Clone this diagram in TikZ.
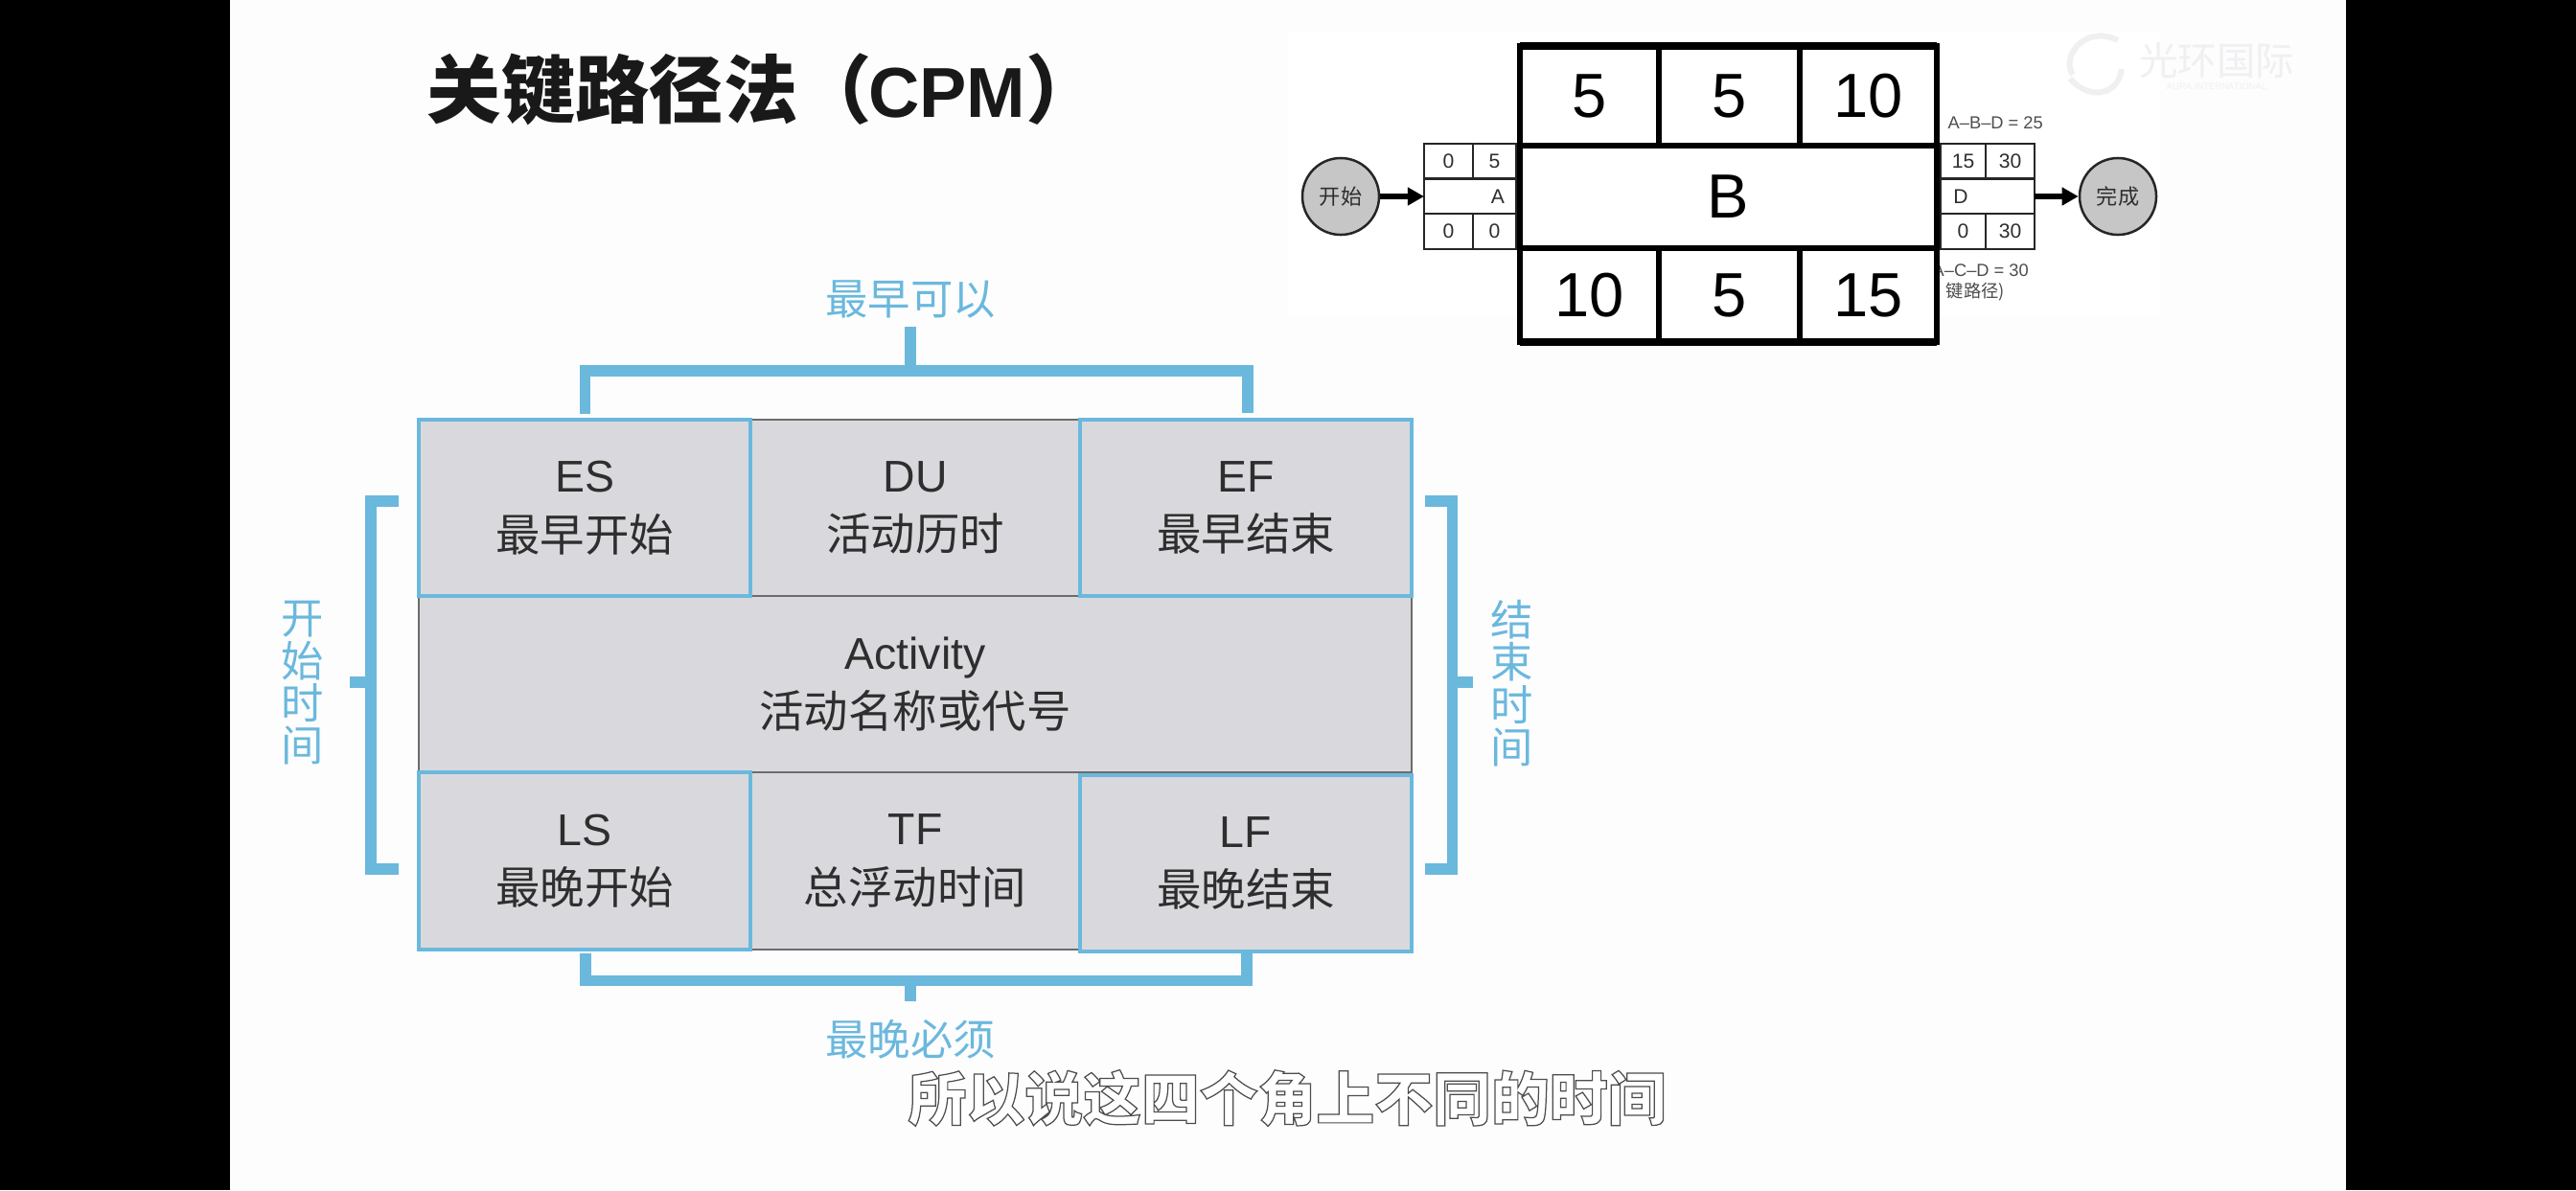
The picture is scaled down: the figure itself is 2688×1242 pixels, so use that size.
\documentclass[tikz,border=0pt]{standalone}
\usepackage{fontspec}
\setmainfont{Liberation Sans}
\newfontfamily\cjk{Noto Sans CJK SC}
\usetikzlibrary{arrows.meta}
\definecolor{barblue}{HTML}{6BB8DD}
\definecolor{cellgray}{HTML}{D9D9DD}
\definecolor{ink}{HTML}{2E2E2E}
\definecolor{pagewhite}{HTML}{FDFDFE}
\definecolor{markgray}{HTML}{F0F0F2}
\tikzset{
  cell/.style={rectangle,draw=gray!85!black,line width=.02cm,fill=cellgray,text=ink,
    inner sep=0pt,outer sep=0pt,align=center,font=\fontsize{13.2}{17.5}\selectfont},
  corner/.style={cell,draw=barblue,line width=.035cm},
  bracket/.style={draw=barblue,line width=.115cm},
  bluetext/.style={text=barblue,align=center,inner sep=0pt,font=\cjk\fontsize{12.6}{12.6}\selectfont},
  bigcell/.style={rectangle,draw=black,fill=white,line width=.055cm,inner sep=0pt,outer sep=0pt,
    font=\fontsize{18.5}{20}\selectfont},
  smallcell/.style={rectangle,draw=black!85,fill=white,line width=.025cm,inner sep=0pt,outer sep=0pt,
    text=ink,font=\fontsize{6}{7}\selectfont},
  endpoint/.style={circle,draw=black!85,fill=gray!45,line width=.025cm,minimum size=.8cm,inner sep=0pt,
    text=ink,font=\cjk\fontsize{6.3}{7}\selectfont},
  flow/.style={draw=black,line width=.06cm,-{Triangle[length=.17cm,width=.18cm]},shorten >=0pt},
  note/.style={anchor=west,inner sep=0pt,text=ink!85,font=\fontsize{5.2}{6}\selectfont}
}
\begin{document}
\begin{tikzpicture}[x=.01cm,y=-.01cm]

        \useasboundingbox (0,0) rectangle (2688,1242);
        \fill[black] (0,0) rectangle (240,1242);
        \fill[black] (2448,0) rectangle (2688,1242);
        \fill[pagewhite] (240,0) rectangle (2448,1242);
        \fill[white] (1344,33) rectangle (2254,330);

        % watermark
        \draw[markgray,line width=.06cm] (2210,42) .. controls (2175,25) and (2150,60) .. (2163,78);
        \draw[markgray,line width=.06cm] (2214,72) .. controls (2210,100) and (2180,105) .. (2160,82);
        \node (markcn) at (2313,63) [inner sep=0pt,text=markgray,font=\cjk\fontsize{11.5}{12}\selectfont] {光环国际};
        \node (markla) at (2313,90) [inner sep=0pt,text=markgray,font=\fontsize{2.7}{3}\selectfont] {AURA INTERNATIONAL};

        \node (title) at (445,93) [anchor=west,inner sep=0pt,text=black!90]
          {{\cjk\bfseries\fontsize{22}{24}\selectfont 关键路径法（}\hspace{-1pt}{\bfseries\fontsize{21}{24}\selectfont CPM}{\cjk\bfseries\fontsize{22}{24}\selectfont ）}};

        % small network
        \begin{scope}[every node/.style={note}]
          \node (pathone) at (2032,128) {A--B--D = 25};
          \node (pathtwo) at (2016,282) {A--C--D = 30};
          \node (pathnote) at (2030,305) {{\cjk 键路径)}};
        \end{scope}

        \begin{scope}[every node/.style={smallcell,minimum height=.37cm}]
          \node (a1) at (1511.5,168.5) [minimum width=.51cm] {0};
          \node (a2) at (1559.5,168.5) [minimum width=.45cm] {5};
          \node (am) at (1534,205) [minimum width=.96cm] {};
          \node (a3) at (1511.5,241.5) [minimum width=.51cm] {0};
          \node (a4) at (1559.5,241.5) [minimum width=.45cm] {0};
          \node (d1) at (2048.5,168.5) [minimum width=.47cm] {15};
          \node (d2) at (2097.5,168.5) [minimum width=.51cm] {30};
          \node (dm) at (2074,205) [minimum width=.98cm] {};
          \node (d3) at (2048.5,241.5) [minimum width=.47cm] {0};
          \node (d4) at (2097.5,241.5) [minimum width=.51cm] {30};
        \end{scope}
        \node (aname) at (1563,205) [inner sep=0pt,text=ink,font=\fontsize{6}{7}\selectfont] {A};
        \node (dname) at (2046,205) [inner sep=0pt,text=ink,font=\fontsize{6}{7}\selectfont] {D};

        \begin{scope}[every node/.style={bigcell}]
          \node (b1) at (1658.5,100) [minimum width=1.45cm,minimum height=1.04cm] {5};
          \node (b2) at (1804.5,100) [minimum width=1.47cm,minimum height=1.04cm] {5};
          \node (b3) at (1949.5,100) [minimum width=1.43cm,minimum height=1.04cm] {10};
          \node (bm) at (1803.5,205.5) [minimum width=4.35cm,minimum height=1.07cm] {B};
          \node (b4) at (1658.5,308) [minimum width=1.45cm,minimum height=.98cm] {10};
          \node (b5) at (1804.5,308) [minimum width=1.47cm,minimum height=.98cm] {5};
          \node (b6) at (1949.5,308) [minimum width=1.43cm,minimum height=.98cm] {15};
        \end{scope}
        \draw[line width=.08cm] (b1.north west) -- (b3.north east);
        \draw[line width=.08cm] (b4.south west) -- (b6.south east);

        \node (kaishi) at (1399,205) [endpoint] {开始};
        \node (wancheng) at (2210,205) [endpoint] {完成};
        \draw[flow] (kaishi) -- (am);
        \draw[flow] (dm) -- (wancheng);

        % activity table
        \begin{scope}[every node/.style={cell}]
          \node (du) at (955,530) [minimum width=3.44cm,minimum height=1.84cm] {DU\\{\cjk 活动历时}};
          \node (act) at (955,714) [minimum width=10.36cm,minimum height=1.84cm] {Activity\\{\cjk 活动名称或代号}};
          \node (tf) at (955,898.5) [minimum width=3.44cm,minimum height=1.85cm] {TF\\{\cjk 总浮动时间}};
        \end{scope}
        \begin{scope}[every node/.style={corner}]
          \node (es) at (610,530) [minimum width=3.46cm,minimum height=1.84cm] {ES\\{\cjk 最早开始}};
          \node (ef) at (1300,530) [minimum width=3.46cm,minimum height=1.84cm] {EF\\{\cjk 最早结束}};
          \node (ls) at (610,898.5) [minimum width=3.46cm,minimum height=1.85cm] {LS\\{\cjk 最晚开始}};
          \node (lf) at (1300,901) [minimum width=3.46cm,minimum height=1.84cm] {LF\\{\cjk 最晚结束}};
        \end{scope}

        % brackets
        \coordinate (topleft) at (610.5,432);
        \coordinate (topbarl) at (610.5,387);
        \coordinate (topbarr) at (1302,387);
        \coordinate (topright) at (1302,431);
        \coordinate (topmid) at (950,387);
        \coordinate (topstem) at (950,341);
        \draw[bracket] (topleft) -- (topbarl) -- (topbarr) -- (topright);
        \path (topmid) edge[bracket] (topstem);

        \coordinate (botleft) at (611,995);
        \coordinate (botbarl) at (611,1023.5);
        \coordinate (botbarr) at (1301,1023.5);
        \coordinate (botright) at (1301,995);
        \coordinate (botmid) at (950,1023.5);
        \coordinate (botstem) at (950,1045);
        \draw[bracket] (botleft) -- (botbarl) -- (botbarr) -- (botright);
        \path (botmid) edge[bracket] (botstem);

        \coordinate (lefttop) at (416,523);
        \coordinate (leftbart) at (387,523);
        \coordinate (leftbarb) at (387,907);
        \coordinate (leftbot) at (416,907);
        \coordinate (leftmid) at (387,712);
        \coordinate (leftstem) at (365,712);
        \draw[bracket] (lefttop) -- (leftbart) -- (leftbarb) -- (leftbot);
        \path (leftmid) edge[bracket] (leftstem);

        \coordinate (righttop) at (1487,523);
        \coordinate (rightbart) at (1515.5,523);
        \coordinate (rightbarb) at (1515.5,907);
        \coordinate (rightbot) at (1487,907);
        \coordinate (rightmid) at (1515.5,712);
        \coordinate (rightstem) at (1537,712);
        \draw[bracket] (righttop) -- (rightbart) -- (rightbarb) -- (rightbot);
        \path (rightmid) edge[bracket] (rightstem);

        \begin{scope}[every node/.style={bluetext}]
          \node (earliest) at (950,312) {最早可以};
          \node (latest) at (950,1085) {最晚必须};
          \node (starts) at (316,713) {开\\始\\时\\间};
          \node (finishes) at (1578,713) {结\\束\\时\\间};
        \end{scope}

        \node (caption) at (1343,1146) [inner sep=0pt,font=\cjk\bfseries\fontsize{17.3}{18}\selectfont]
          {\special{pdf:code q 2 Tr 0.35 w 0.3 G 1 g}所以说这四个角上不同的时间\special{pdf:code Q}};

      \end{tikzpicture}
\end{document}
